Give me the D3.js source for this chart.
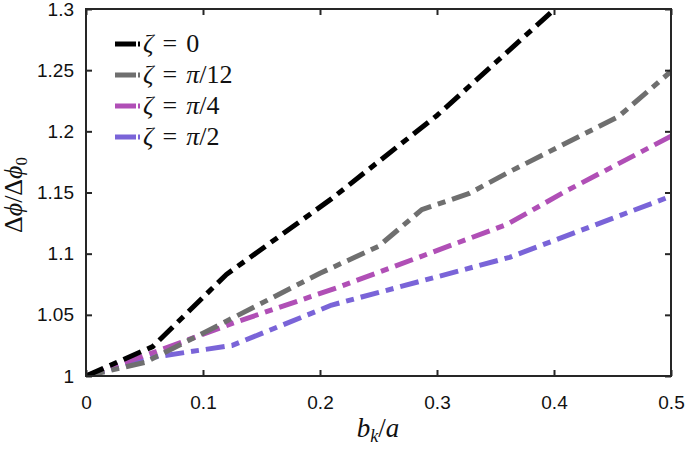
<!DOCTYPE html>
<html><head><meta charset="utf-8">
<script src="https://cdn.jsdelivr.net/npm/d3@7"></script>
<style>body{margin:0;background:#fff}svg{display:block}</style>
</head><body>
<svg id="c" width="685" height="450"></svg>
<script>
const xTicks = [0, 0.1, 0.2, 0.3, 0.4, 0.5];
const xTickLabels = ["0", "0.1", "0.2", "0.3", "0.4", "0.5"];
const yTicks = [1, 1.05, 1.1, 1.15, 1.2, 1.25, 1.3];
const yTickLabels = ["1", "1.05", "1.1", "1.15", "1.2", "1.25", "1.3"];

const seriesNames = ["ζ = 0", "ζ = π/12", "ζ = π/4", "ζ = π/2"];
const seriesColors = ["#000000", "#6f6f6f", "#b04fb6", "#7a64d8"];

const x0 = [0, 0.057, 0.12, 0.21, 0.30, 0.41];
const y0 = [1, 1.024, 1.083, 1.145, 1.213, 1.308];
const x1 = [0, 0.05, 0.1, 0.2, 0.25, 0.287, 0.327, 0.36, 0.455, 0.5];
const y1 = [1, 1.011, 1.035, 1.084, 1.106, 1.136, 1.149, 1.166, 1.212, 1.249];
const x2 = [0, 0.06, 0.125, 0.217, 0.36, 0.41, 0.5];
const y2 = [1, 1.020, 1.043, 1.073, 1.124, 1.151, 1.196];
const x3 = [0, 0.055, 0.125, 0.21, 0.362, 0.5];
const y3 = [1, 1.015, 1.025, 1.058, 1.097, 1.147];
const seriesX = [x0, x1, x2, x3];
const seriesY = [y0, y1, y2, y3];

const svg = d3.select("#c");
const L = 86, R = 671, T = 9, B = 376;
const x = d3.scaleLinear().domain([0, 0.5]).range([L, R]);
const y = d3.scaleLinear().domain([1, 1.3]).range([B, T]);

svg.append("defs").append("clipPath").attr("id", "clip")
  .append("rect").attr("x", L).attr("y", T).attr("width", R - L).attr("height", B - T);

const g = svg.append("g").attr("clip-path", "url(#clip)");
const line = d3.line().x(d => x(d[0])).y(d => y(d[1]));
for (let i = seriesX.length - 1; i >= 0; i--) {
  const pts = seriesX[i].map((v, k) => [v, seriesY[i][k]]);
  g.append("path").datum(pts).attr("d", line)
    .attr("fill", "none").attr("stroke", seriesColors[i])
    .attr("stroke-width", 5).attr("stroke-dasharray", "19,7,8,7")
    .attr("stroke-linejoin", "round");
}

const axColor = "#262626";
const tickFont = "Liberation Sans, Arial, sans-serif";
const ax = svg.append("g");
ax.append("rect").attr("x", L).attr("y", T).attr("width", R - L).attr("height", B - T)
  .attr("fill", "none").attr("stroke", axColor).attr("stroke-width", 2);
const xa = d3.axisBottom(x).tickValues(xTicks).tickSize(-6).tickFormat((d, i) => xTickLabels[i]).tickPadding(20);
ax.append("g").attr("transform", `translate(0,${B})`).call(xa);
const xt = d3.axisTop(x).tickValues(xTicks).tickSize(-6).tickFormat("");
ax.append("g").attr("transform", `translate(0,${T})`).call(xt);
const ya = d3.axisLeft(y).tickValues(yTicks).tickSize(-6).tickFormat((d, i) => yTickLabels[i]).tickPadding(12);
ax.append("g").attr("transform", `translate(${L},0)`).call(ya);
const yr = d3.axisRight(y).tickValues(yTicks).tickSize(-6).tickFormat("");
ax.append("g").attr("transform", `translate(${R},0)`).call(yr);
ax.selectAll(".domain").remove();
ax.selectAll(".tick line").attr("stroke", axColor).attr("stroke-width", 2);
ax.selectAll(".tick text").attr("fill", "#111").style("font-family", tickFont).style("font-size", "19px");

const serif = "Liberation Serif, 'DejaVu Serif', serif";
const xl = svg.append("text").attr("x", 378).attr("y", 437).attr("text-anchor", "middle")
  .style("font-family", serif).style("font-size", "27px").attr("fill", "#111");
xl.append("tspan").style("font-style", "italic").text("b");
xl.append("tspan").style("font-style", "italic").style("font-size", "18px").attr("dy", 5).text("k");
xl.append("tspan").attr("dy", -5).text("/");
xl.append("tspan").style("font-style", "italic").text("a");

const yl = svg.append("text").attr("transform", "translate(22,195) rotate(-90)").attr("text-anchor", "middle")
  .style("font-family", serif).style("font-size", "26px").attr("fill", "#111");
yl.append("tspan").text("Δ");
yl.append("tspan").style("font-style", "italic").text("ϕ");
yl.append("tspan").text("/Δ");
yl.append("tspan").style("font-style", "italic").text("ϕ");
yl.append("tspan").style("font-size", "17px").attr("dy", 5).text("0");

const lg = svg.append("g");
seriesNames.forEach((name, i) => {
  const ly = 44 + i * 31;
  lg.append("line").attr("x1", 115).attr("x2", 140).attr("y1", ly).attr("y2", ly)
    .attr("stroke", seriesColors[i]).attr("stroke-width", 5).attr("stroke-dasharray", "21,2,2,20");
  const t = lg.append("text").attr("x", 143).attr("y", ly + 8)
    .style("font-family", serif).style("font-size", "26px").attr("fill", "#111");
  const parts = name.split(" ");
  t.append("tspan").style("font-style", "italic").text(parts[0]);
  t.append("tspan").attr("dx", 9).text(parts[1]);
  const rhs = parts[2];
  if (rhs.startsWith("π")) {
    t.append("tspan").attr("dx", 9).style("font-style", "italic").text("π");
    t.append("tspan").text(rhs.slice(1));
  } else {
    t.append("tspan").attr("dx", 9).text(rhs);
  }
});
</script>
</body></html>
